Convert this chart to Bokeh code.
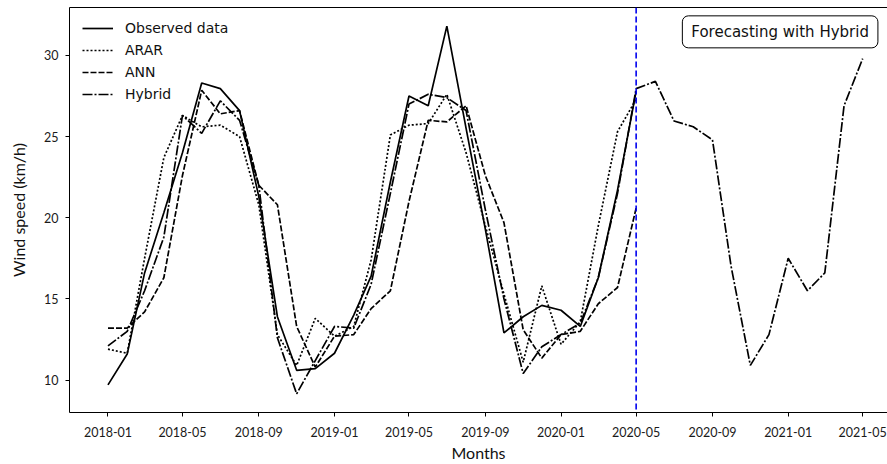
import pandas as pd
from bokeh.plotting import figure
from bokeh.models import (Range1d, FixedTicker, DatetimeTickFormatter, Span, Label,
                          LinearAxis, Legend, LegendItem)
from bokeh.embed import file_html
from bokeh.resources import INLINE

# ---------------- data (monthly) ----------------
start_month = "2018-01-01"

observed = [9.7, 11.6, 16.6, 20.3, 24.0, 28.3, 27.95, 26.6, 21.3, 13.9, 10.6, 10.7,
            11.65, 14.0, 16.4, 22.2, 27.5, 26.9, 31.8, 25.5, 19.3, 12.9, 13.9, 14.6,
            14.3, 13.3, 16.3, 21.7, 27.8]

arar = [11.9, 11.65, 17.5, 23.7, 26.3, 25.6, 25.7, 25.0, 20.8, 12.8, 10.9, 13.8,
        12.7, 13.3, 17.4, 25.1, 25.7, 25.8, 27.6, 24.0, 19.5, 15.3, 11.1, 15.8,
        12.2, 13.6, 19.5, 25.3, 27.3]

ann = [13.2, 13.2, 14.2, 16.3, 22.6, 27.85, 26.4, 26.6, 22.0, 20.8, 13.3, 10.8,
       12.7, 12.8, 14.4, 15.5, 21.0, 26.0, 25.9, 26.9, 22.6, 19.7, 13.1, 11.35,
       12.8, 13.0, 14.7, 15.7, 20.6]

hybrid = [12.1, 13.0, 15.5, 18.8, 26.3, 25.2, 27.2, 26.0, 22.0, 12.6, 9.15, 11.2,
          13.3, 13.2, 15.9, 21.5, 27.0, 27.6, 27.4, 26.6, 20.5, 15.0, 10.4, 12.05,
          12.8, 13.5, 16.3, 21.5, 27.95, 28.4, 25.96, 25.6, 24.8, 17.0, 10.9, 12.8,
          17.5, 15.5, 16.6, 26.9, 29.8]

tick_labels = ["2018-01", "2018-05", "2018-09", "2019-01", "2019-05", "2019-09",
               "2020-01", "2020-05", "2020-09", "2021-01", "2021-05"]
y_ticks = [10, 15, 20, 25, 30]
forecast_start = "2020-05-01"

months_obs = pd.date_range(start_month, periods=len(observed), freq="MS")
months_hyb = pd.date_range(start_month, periods=len(hybrid), freq="MS")


def ms(s):
    return pd.Timestamp(s).value / 1e6


tick_ms = [ms(t + "-01") for t in tick_labels]

# ---------------- figure ----------------
p = figure(width=887, height=464, x_axis_type="datetime",
           output_backend="svg", toolbar_location=None,
           x_range=Range1d(ms("2017-10-31"), ms("2021-06-10")),
           y_range=Range1d(8.0, 32.95),
           min_border_left=69, min_border_right=0, min_border_top=7,
           min_border_bottom=52)
p.xgrid.visible = False
p.ygrid.visible = False
p.outline_line_color = None
p.background_fill_color = "white"

lw = 1.7
r_obs = p.line(months_obs, observed, line_color="black", line_width=lw)
r_arar = p.line(months_obs, arar, line_color="black", line_width=lw, line_dash="2 2")
r_ann = p.line(months_obs, ann, line_color="black", line_width=lw, line_dash="6 2")
r_hyb = p.line(months_hyb, hybrid, line_color="black", line_width=lw,
               line_dash="10 2 2 2")

p.add_layout(Span(location=ms(forecast_start), dimension="height",
                  line_color="#0000ee", line_width=1.6, line_dash="6 3"))

# axes
xa = p.xaxis[0]
xa.ticker = FixedTicker(ticks=tick_ms)
xa.formatter = DatetimeTickFormatter(years="%Y-%m", months="%Y-%m", days="%Y-%m",
                                     hours="%Y-%m")
ya = p.yaxis[0]
ya.ticker = FixedTicker(ticks=y_ticks)
for ax in (xa, ya):
    ax.axis_line_color = "black"
    ax.axis_line_width = 1
    ax.major_tick_out = 4
    ax.major_tick_in = 0
    ax.major_tick_line_color = "black"
    ax.minor_tick_line_color = None
    ax.major_label_text_font = "Lato"
    ax.major_label_text_font_size = "12.5px"
    ax.major_label_text_color = "#1a1a1a"
    ax.axis_label_text_font = "Lato"
    ax.axis_label_text_font_size = "16px"
    ax.axis_label_text_font_style = "normal"
    ax.axis_label_text_color = "#111111"
xa.axis_label = "Months"
ya.axis_label = "Wind speed (km/h)"
xa.major_label_standoff = 10
xa.axis_label_standoff = 3
ya.major_label_standoff = 7
ya.axis_label_standoff = 13

top = LinearAxis(ticker=FixedTicker(ticks=[]), axis_line_color="black",
                 major_tick_line_color=None, minor_tick_line_color=None,
                 major_label_text_font_size="0px")
p.add_layout(top, "above")

legend = Legend(items=[LegendItem(label="Observed data", renderers=[r_obs]),
                       LegendItem(label="ARAR", renderers=[r_arar]),
                       LegendItem(label="ANN", renderers=[r_ann]),
                       LegendItem(label="Hybrid", renderers=[r_hyb])],
                location="top_left")
legend.margin = 4
legend.padding = 9
legend.spacing = 6
legend.glyph_width = 31
legend.glyph_height = 14
legend.label_height = 14
legend.label_standoff = 12
legend.label_text_font = "DejaVu Sans"
legend.label_text_font_size = "14px"
legend.label_text_color = "#111111"
legend.border_line_alpha = 0
legend.background_fill_alpha = 0
p.add_layout(legend)

p.add_layout(Label(x=ms("2020-12-19"), y=31.45, text="Forecasting with Hybrid",
                   text_font="DejaVu Sans", text_font_size="15px",
                   text_color="#111111", text_align="center",
                   text_baseline="middle", border_line_color="black",
                   border_line_width=1, background_fill_color="white",
                   border_radius=6,
                   padding=dict(left=9, right=9, top=7, bottom=7)))

open("out.html", "w").write(file_html(p, INLINE))
